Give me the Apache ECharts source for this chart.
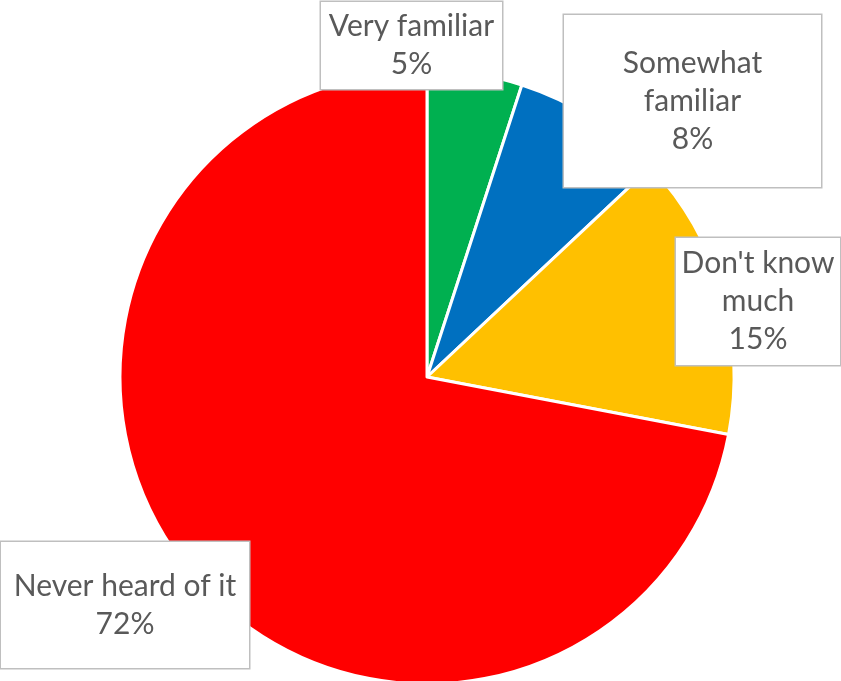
<!DOCTYPE html>
<html>
<head>
<meta charset="utf-8">
<script src="https://cdn.jsdelivr.net/npm/echarts@6/dist/echarts.min.js"></script>
<style>html,body{margin:0;padding:0;background:#fff}#c{width:841px;height:681px}</style>
</head>
<body>
<div id="c"></div>
<script>
// ---- data ----
const categories = ['Very familiar', 'Somewhat familiar', "Don't know much", 'Never heard of it'];
const values = [5, 8, 15, 72];
const labelLines = ['Very familiar', 'Somewhat\nfamiliar', "Don't know\nmuch", 'Never heard of it'];

// ---- styling / layout (not data) ----
const colors = ['#00B050', '#0070C0', '#FFC000', '#FF0000'];
// label box centers and sizes [cx, cy, width, verticalPadding]
const labelBoxes = [
  [411.5, 45.5, 183, 5.5],
  [692.5, 101, 259, 29],
  [758, 301.5, 166, 6.5],
  [125, 605, 250, 25]
];

const chart = echarts.init(document.getElementById('c'), null, {renderer: 'canvas'});
chart.setOption({
  animation: false,
  series: [{
    type: 'pie',
    center: [427, 377],
    radius: [0, 307],
    startAngle: 90,
    clockwise: true,
    itemStyle: {borderColor: '#ffffff', borderWidth: 3},
    labelLine: {show: false},
    data: categories.map((name, i) => ({
      name: name,
      value: values[i],
      itemStyle: {color: colors[i]},
      label: {
        width: labelBoxes[i][2] - 2,
        padding: [labelBoxes[i][3], 0, labelBoxes[i][3], 0]
      }
    })),
    label: {
      show: true,
      position: 'outside',
      formatter: p => labelLines[p.dataIndex] + '\n' + p.value + '%',
      fontFamily: 'Lato',
      fontSize: 30,
      lineHeight: 38,
      color: '#595959',
      align: 'center',
      backgroundColor: '#ffffff',
      borderColor: '#BFBFBF',
      borderWidth: 1.5,
      overflow: 'none'
    },
    labelLayout: function (params) {
      const b = labelBoxes[params.dataIndex];
      return {x: b[0], y: b[1], align: 'center', verticalAlign: 'middle', hideOverlap: false};
    }
  }]
});
</script>
</body>
</html>
